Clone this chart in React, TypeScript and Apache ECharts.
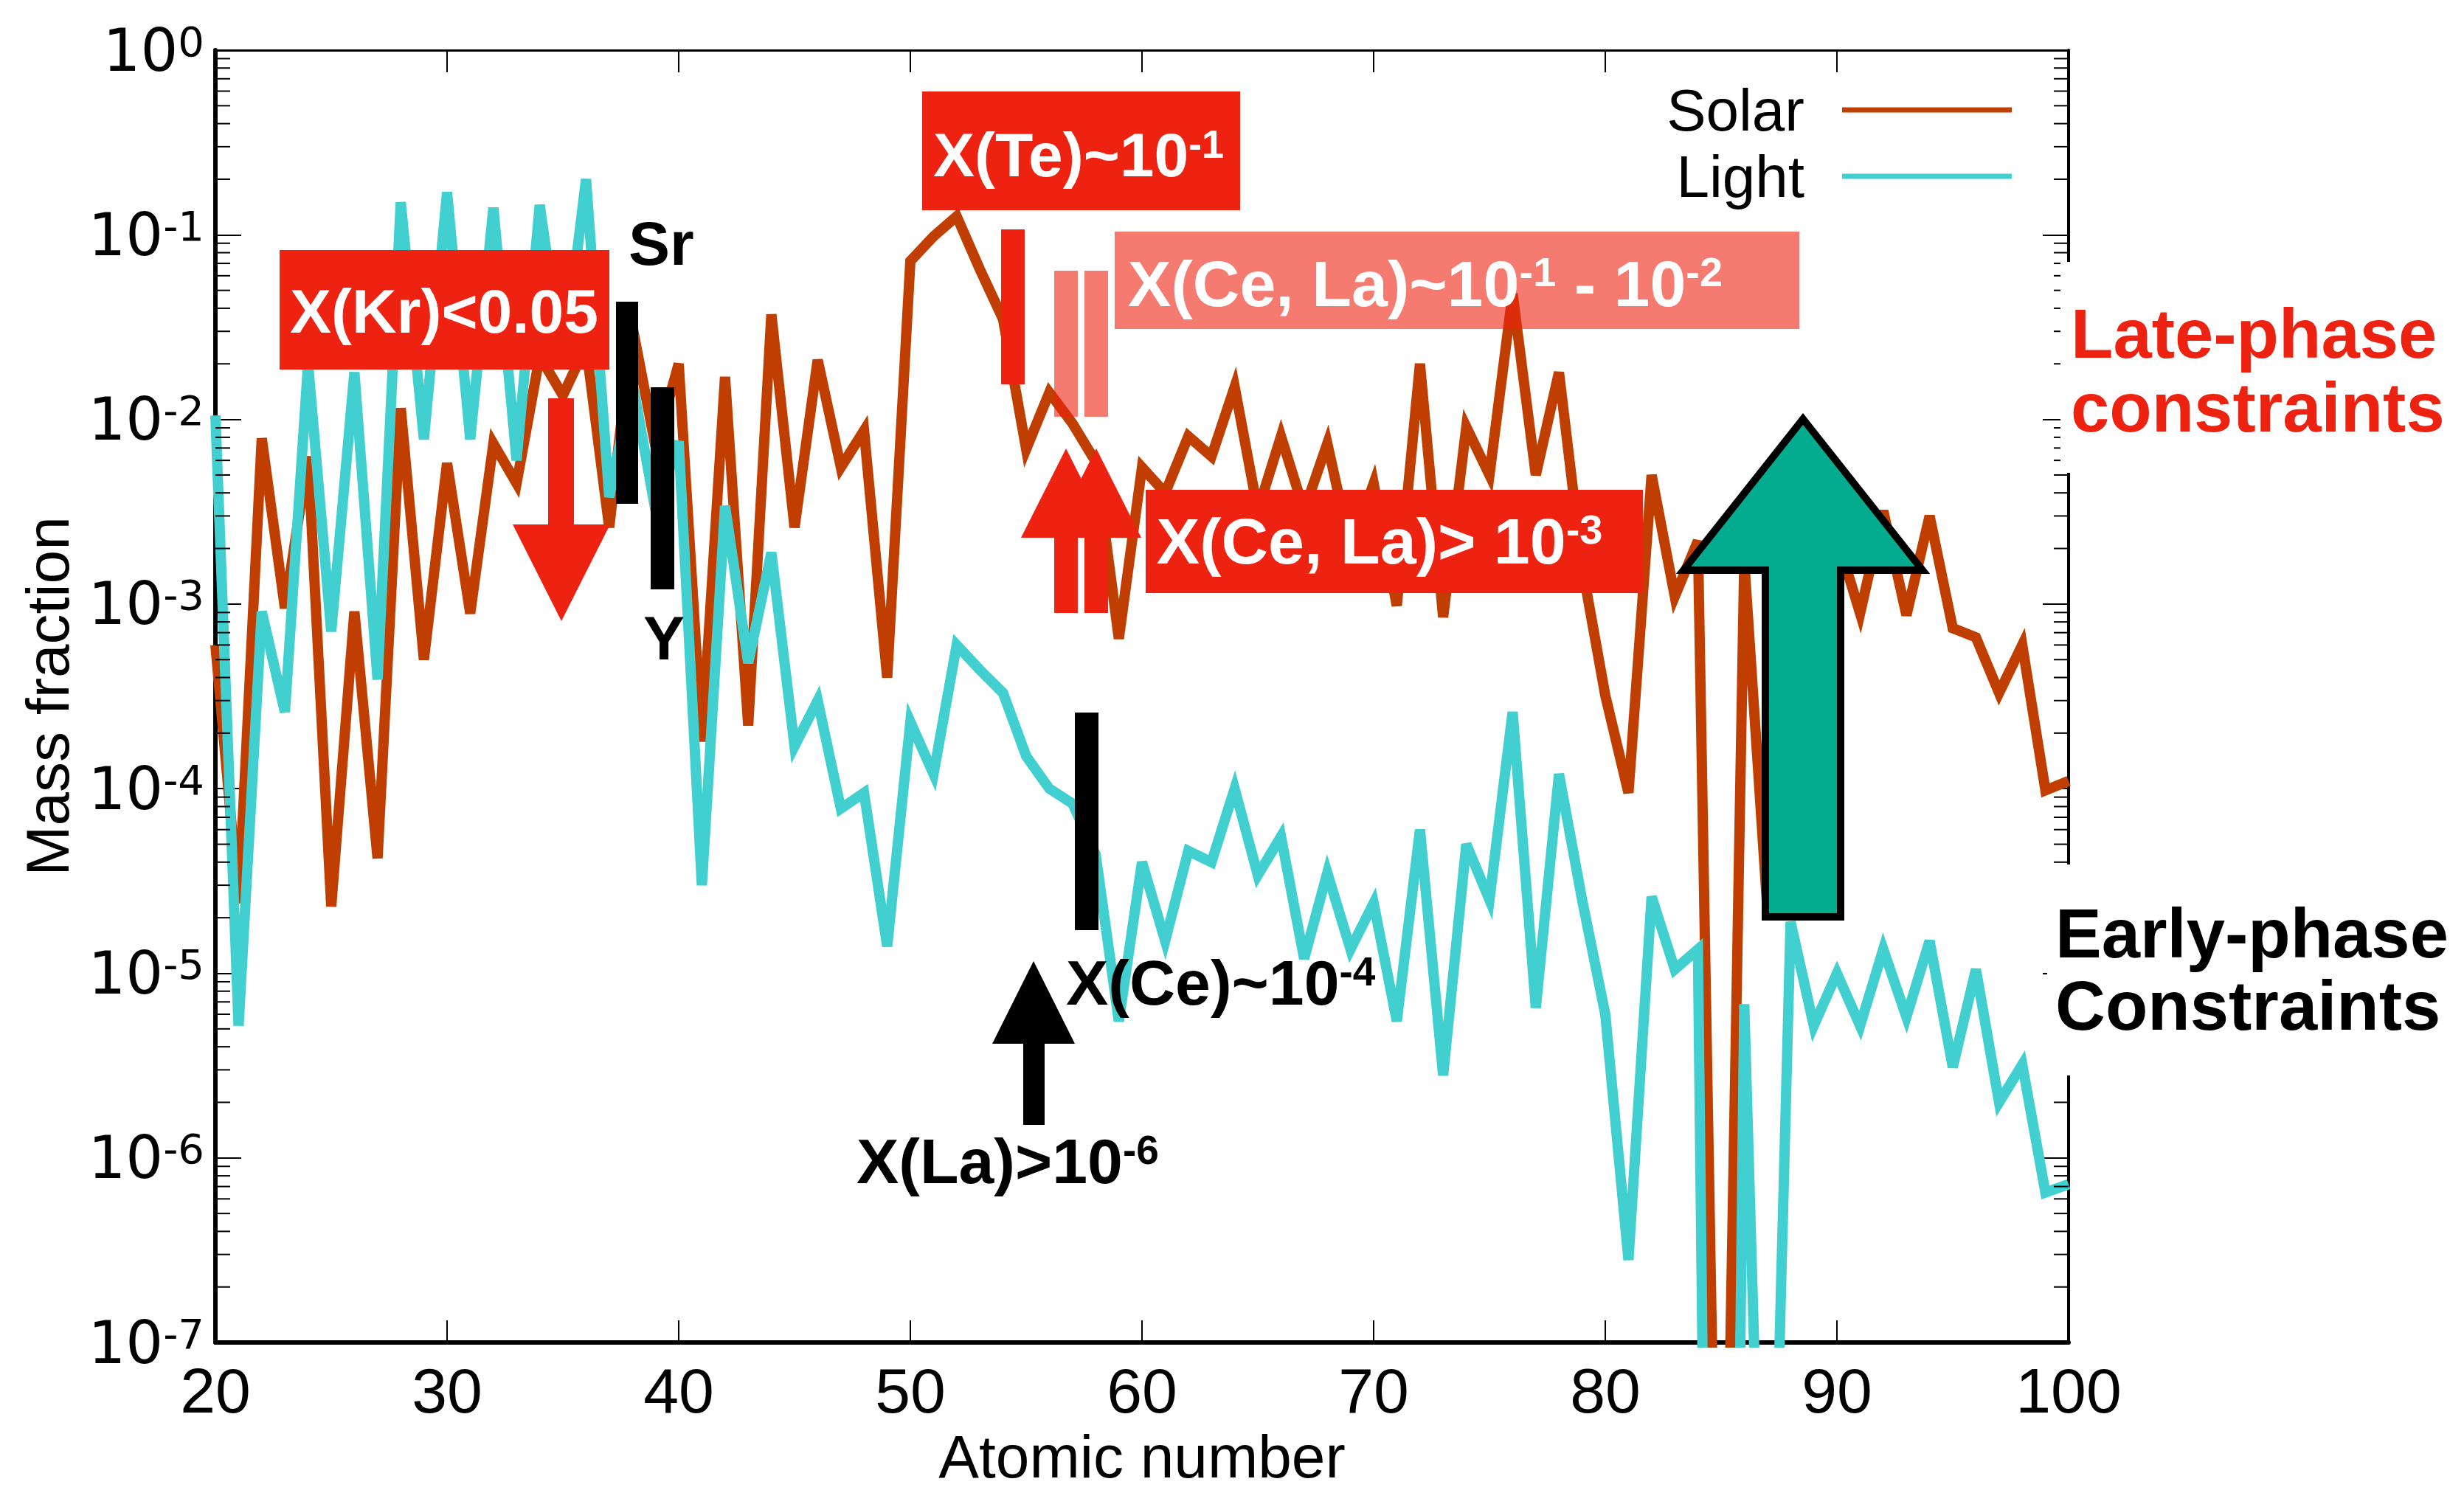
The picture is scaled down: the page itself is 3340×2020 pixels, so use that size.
import React, { useEffect, useRef } from "react";
import * as echarts from "echarts";

// ---------------- data ----------------
const atomicNumber = [
  20, 21, 22, 23, 24, 25, 26, 27, 28, 29, 30, 31, 32, 33, 34, 35, 36, 37, 38, 39,
  40, 41, 42, 43, 44, 45, 46, 47, 48, 49, 50, 51, 52, 53, 54, 55, 56, 57, 58, 59,
  60, 61, 62, 63, 64, 65, 66, 67, 68, 69, 70, 71, 72, 73, 74, 75, 76, 77, 78, 79,
  80, 81, 82, 83, 84, 85, 86, 87, 88, 89, 90, 91, 92, 93, 94, 95, 96, 97, 98, 99, 100,
];

const solarMassFraction = [
  6.0e-4, 2.4e-5, 7.9e-3, 9.5e-4, 6.3e-3, 2.3e-5, 9.1e-4, 4.2e-5, 1.15e-2, 5.0e-4,
  5.8e-3, 8.9e-4, 7.4e-3, 4.5e-3, 2.2e-2, 1.35e-2, 2.5e-2, 2.6e-3, 3.2e-2, 7.1e-3,
  2.0e-2, 1.8e-4, 1.7e-2, 2.2e-4, 3.7e-2, 2.6e-3, 2.1e-2, 5.5e-3, 8.7e-3, 4.0e-4,
  7.2e-2, 9.8e-2, 1.26e-1, 6.5e-2, 3.5e-2, 6.9e-3, 1.4e-2, 9.5e-3, 5.9e-3, 6.5e-4,
  5.5e-3, 4.0e-3, 8.1e-3, 6.3e-3, 1.5e-2, 3.2e-3, 8.1e-3, 3.2e-3, 7.4e-3, 2.0e-3,
  4.5e-3, 9.8e-4, 2.0e-2, 8.5e-4, 9.1e-3, 5.0e-3, 4.8e-2, 5.0e-3, 1.8e-2, 1.6e-3,
  3.2e-4, 9.5e-5, 5.0e-3, 1.1e-3, 2.2e-3, 1.4e-10, 1.7e-3, 2.2e-5, 2.0e-3, 6.3e-4,
  2.3e-3, 8.9e-4, 3.2e-3, 8.7e-4, 3.0e-3, 7.4e-4, 6.6e-4, 3.3e-4, 6.0e-4, 9.8e-5, 1.1e-4,
];

const lightMassFraction = [
  1.05e-2, 5.2e-6, 9.1e-4, 2.6e-4, 2.0e-2, 7.1e-4, 1.8e-2, 3.9e-4, 0.15, 7.8e-3,
  0.17, 7.8e-3, 0.14, 6.0e-3, 0.145, 1.9e-2, 0.2, 3.8e-3, 1.6e-2, 3.2e-3,
  7.6e-3, 3.0e-5, 3.4e-3, 4.8e-4, 1.9e-3, 1.7e-4, 3.0e-4, 7.8e-5, 9.5e-5, 1.4e-5,
  2.3e-4, 1.2e-4, 6.0e-4, 4.4e-4, 3.3e-4, 1.5e-4, 1.0e-4, 8.3e-5, 4.4e-5, 5.5e-6,
  4.0e-5, 1.5e-5, 4.6e-5, 4.0e-5, 1.0e-4, 3.4e-5, 5.5e-5, 1.2e-5, 3.5e-5, 1.35e-5,
  2.4e-5, 5.5e-6, 6.0e-5, 2.8e-6, 5.0e-5, 2.5e-5, 2.6e-4, 6.5e-6, 1.2e-4, 2.5e-5,
  6.0e-6, 2.8e-7, 2.6e-5, 1.05e-5, 1.35e-5, 1e-16, 6.8e-6, 3e-10, 1.9e-5, 5.2e-6,
  1.0e-5, 5.2e-6, 1.35e-5, 5.8e-6, 1.5e-5, 3.1e-6, 1.05e-5, 2.0e-6, 3.2e-6, 6.5e-7, 7.2e-7,
];

const seriesNames = ["Solar", "Light"];
const xMin = 20;
const xMax = 100;
const xInterval = 10;
const yMin = 1e-7;
const yMax = 1;
const minorDigits = [2, 3, 4, 5, 6, 7, 8, 9];
const decadeExponents = [-7, -6, -5, -4, -3, -2, -1];

// ---------------- styles ----------------
const SOLAR_COLOR = "#C03F00";
const LIGHT_COLOR = "#41CFD0";
const RED = "#EE2211";
const PINK = "rgba(238,34,17,0.6)";
const GREEN = "#03AC8E";
const HELV = "'Liberation Sans', Arial, sans-serif";
const WIDE = "'DejaVu Sans', sans-serif";

const GRID = { left: 292, top: 68, width: 2512, height: 1760 };

function rect(x: number, y: number, w: number, h: number, fill: string, z = 100) {
  return { type: "rect", shape: { x, y, width: w, height: h }, style: { fill }, z, silent: true };
}
function poly(points: number[][], fill: string, stroke?: string, lw = 0, z = 100) {
  return {
    type: "polygon",
    shape: { points },
    style: stroke ? { fill, stroke, lineWidth: lw, lineJoin: "miter" } : { fill },
    z,
    silent: true,
  };
}
function txt(
  x: number,
  y: number,
  text: string,
  fill: string,
  size: number,
  align: string,
  weight = "bold",
  family = HELV,
  rich?: any
) {
  return {
    type: "text",
    x,
    y,
    z: 102,
    silent: true,
    style: {
      text,
      fill,
      fontSize: size,
      fontWeight: weight,
      fontFamily: family,
      align,
      verticalAlign: "middle",
      textAlign: align,
      textVerticalAlign: "middle",
      rich,
    },
  };
}
function supRich(size: number, supSize: number, supLH: number) {
  return {
    m: { fontSize: size, fontFamily: HELV, fontWeight: "bold", lineHeight: size },
    s: { fontSize: supSize, fontFamily: HELV, fontWeight: "bold", lineHeight: supLH, verticalAlign: "top" },
  };
}

export default function App() {
  const ref = useRef<HTMLDivElement>(null);

  useEffect(() => {
    if (!ref.current) return;
    const chart = echarts.init(ref.current, null, { renderer: "svg" });

    const minorTickValues: number[][] = [];
    decadeExponents.forEach((e) => {
      minorDigits.forEach((d) => {
        minorTickValues.push([xMin, d * Math.pow(10, e)]);
      });
    });

    const graphics: any[] = [
      // legend
      txt(2446, 149, seriesNames[0], "#000", 80, "right", "normal"),
      {
        type: "line",
        shape: { x1: 2497, y1: 149, x2: 2727, y2: 149 },
        style: { stroke: SOLAR_COLOR, lineWidth: 7 },
        z: 100,
        silent: true,
      },
      txt(2446, 239, seriesNames[1], "#000", 80, "right", "normal"),
      {
        type: "line",
        shape: { x1: 2497, y1: 239, x2: 2727, y2: 239 },
        style: { stroke: LIGHT_COLOR, lineWidth: 7 },
        z: 100,
        silent: true,
      },

      // Kr constraint
      rect(379, 339, 447, 162, RED),
      txt(602, 422, "X(Kr)<0.05", "#fff", 84, "center"),
      rect(743, 540, 35, 175, RED),
      poly([[695, 711], [827, 711], [761, 842]], RED),

      // Sr / Y
      rect(835, 409, 30, 274, "#000"),
      rect(882, 525, 32, 274, "#000"),
      txt(852, 330, "Sr", "#000", 84, "left"),
      txt(900, 865, "Y", "#000", 84, "center"),

      // Te constraint
      rect(1250, 124, 431, 161, RED),
      txt(1462, 210, "{m|X(Te)~10}{s|-1}", "#fff", 84, "center", "bold", HELV, supRich(84, 54, 34)),
      rect(1357, 311, 32, 210, RED),

      // Ce, La late (pink)
      rect(1429, 367, 32, 198, PINK),
      rect(1470, 367, 32, 198, PINK),
      rect(1511, 314, 928, 132, PINK),
      txt(
        1932,
        384,
        "{m|X(Ce, La)~10}{s|-1}{m| - 10}{s|-2}",
        "#fff",
        88,
        "center",
        "bold",
        HELV,
        supRich(88, 56, 36)
      ),

      // Ce, La lower limits (red up arrows)
      rect(1429, 726, 32, 105, RED),
      rect(1470, 726, 32, 105, RED),
      poly([[1384, 729], [1445, 608], [1506, 729]], RED),
      poly([[1425, 729], [1486, 608], [1547, 729]], RED),
      rect(1553, 664, 674, 140, RED),
      txt(1870, 733, "{m|X(Ce, La)> 10}{s|-3}", "#fff", 88, "center", "bold", HELV, supRich(88, 56, 36)),

      // early Ce / La
      rect(1457, 966, 32, 295, "#000"),
      txt(1445, 1332, "{m|X(Ce)~10}{s|-4}", "#000", 86, "left", "bold", HELV, supRich(86, 55, 35)),
      poly([[1345, 1415], [1401, 1303], [1457, 1415]], "#000"),
      rect(1387, 1413, 29, 112, "#000"),
      txt(1161, 1574, "{m|X(La)>10}{s|-6}", "#000", 86, "left", "bold", HELV, supRich(86, 55, 35)),

      // green arrow
      poly(
        [
          [2444, 568],
          [2606, 773],
          [2495, 773],
          [2495, 1243],
          [2393, 1243],
          [2393, 773],
          [2282, 773],
        ],
        GREEN,
        "#000",
        10
      ),

      // side labels with white backgrounds
      rect(2793, 355, 547, 286, "#fff"),
      txt(2807, 452, "Late-phase", RED, 94, "left"),
      txt(2807, 552, "constraints", RED, 94, "left"),
      rect(2775, 1172, 565, 286, "#fff"),
      txt(2786, 1265, "Early-phase", "#000", 94, "left"),
      txt(2786, 1363, "Constraints", "#000", 94, "left"),
    ];

    const yLabelRich = {
      b: { fontSize: 80, fontFamily: WIDE, color: "#000", lineHeight: 80 },
      s: { fontSize: 56, fontFamily: WIDE, color: "#000", lineHeight: 18, verticalAlign: "top" },
    };

    const option: any = {
      animation: false,
      backgroundColor: "#fff",
      grid: { ...GRID, containLabel: false },
      xAxis: [
        {
          type: "value",
          min: xMin,
          max: xMax,
          interval: xInterval,
          position: "bottom",
          name: "Atomic number",
          nameLocation: "middle",
          nameGap: 106,
          nameTextStyle: { fontSize: 82, fontFamily: HELV, color: "#000" },
          axisLine: { show: true, lineStyle: { color: "#000", width: 6 } },
          axisTick: { show: true, inside: true, length: 30, lineStyle: { color: "#000", width: 2 } },
          axisLabel: { fontSize: 86, fontFamily: HELV, color: "#000", margin: 22 },
          splitLine: { show: false },
        },
        {
          type: "value",
          min: xMin,
          max: xMax,
          interval: xInterval,
          position: "top",
          axisLine: { show: true, onZero: false, lineStyle: { color: "#000", width: 3 } },
          axisTick: { show: true, inside: true, length: 30, lineStyle: { color: "#000", width: 2 } },
          axisLabel: { show: false },
          splitLine: { show: false },
        },
      ],
      yAxis: [
        {
          type: "log",
          logBase: 10,
          min: yMin,
          max: yMax,
          position: "left",
          name: "Mass fraction",
          nameLocation: "middle",
          nameGap: 187,
          nameTextStyle: { fontSize: 82, fontFamily: HELV, color: "#000" },
          axisLine: { show: true, onZero: false, lineStyle: { color: "#000", width: 6 } },
          axisTick: { show: true, inside: true, length: 35, lineStyle: { color: "#000", width: 2 } },
          axisLabel: {
            margin: 15,
            formatter: (v: number) => `{b|10}{s|${Math.round(Math.log10(v))}}`,
            rich: yLabelRich,
          },
          splitLine: { show: false },
        },
        {
          type: "log",
          logBase: 10,
          min: yMin,
          max: yMax,
          position: "right",
          axisLine: { show: true, onZero: false, lineStyle: { color: "#000", width: 4 } },
          axisTick: { show: true, inside: true, length: 35, lineStyle: { color: "#000", width: 2 } },
          axisLabel: { show: false },
          splitLine: { show: false },
        },
      ],
      series: [
        {
          name: seriesNames[0],
          type: "line",
          xAxisIndex: 0,
          yAxisIndex: 0,
          data: atomicNumber.map((z, i) => [z, solarMassFraction[i]]),
          showSymbol: false,
          symbol: "none",
          clip: true,
          lineStyle: { color: SOLAR_COLOR, width: 14, join: "miter" },
          itemStyle: { color: SOLAR_COLOR },
          z: 3,
        },
        {
          name: seriesNames[1],
          type: "line",
          xAxisIndex: 0,
          yAxisIndex: 0,
          data: atomicNumber.map((z, i) => [z, lightMassFraction[i]]),
          showSymbol: false,
          symbol: "none",
          clip: true,
          lineStyle: { color: LIGHT_COLOR, width: 14, join: "miter" },
          itemStyle: { color: LIGHT_COLOR },
          z: 4,
        },
        {
          name: "minor ticks",
          type: "custom",
          xAxisIndex: 0,
          yAxisIndex: 0,
          silent: true,
          clip: false,
          z: 5,
          data: minorTickValues,
          encode: { x: 0, y: 1 },
          renderItem: (_params: any, api: any) => {
            const v = api.value(1);
            const pl = api.coord([xMin, v]);
            const pr = api.coord([xMax, v]);
            return {
              type: "group",
              children: [
                {
                  type: "line",
                  shape: { x1: pl[0], y1: pl[1], x2: pl[0] + 20, y2: pl[1] },
                  style: { stroke: "#000", lineWidth: 2 },
                },
                {
                  type: "line",
                  shape: { x1: pr[0] - 20, y1: pr[1], x2: pr[0], y2: pr[1] },
                  style: { stroke: "#000", lineWidth: 2 },
                },
              ],
            };
          },
        },
      ],
      graphic: graphics,
    };

    chart.setOption(option);
    return () => chart.dispose();
  }, []);

  return (
    <div
      ref={ref}
      style={{ position: "fixed", left: 0, top: 0, width: 3340, height: 2020, background: "#fff" }}
    />
  );
}
